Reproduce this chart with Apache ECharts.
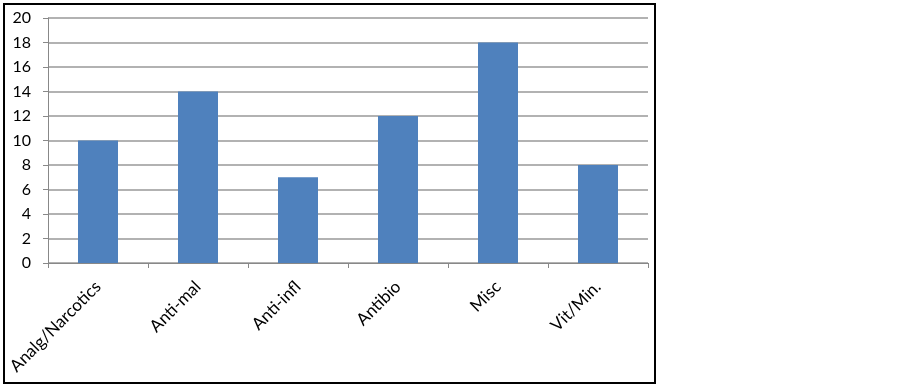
<!DOCTYPE html>
<html><head><meta charset="utf-8">
<script src="https://cdn.jsdelivr.net/npm/echarts@6/dist/echarts.min.js"></script>
<style>html,body{margin:0;padding:0;background:#fff}#c{width:902px;height:387px}</style>
</head><body><div id="c"></div>
<script>
const categories = ["Analg/Narcotics", "Anti-mal", "Anti-infl", "Antibio", "Misc", "Vit/Min."];
const values = [10, 14, 7, 12, 18, 8];
const yTicks = [0, 2, 4, 6, 8, 10, 12, 14, 16, 18, 20];

const chart = echarts.init(document.getElementById('c'), null, {renderer: 'canvas'});
chart.setOption({
  animation: false,
  backgroundColor: '#fff',
  graphic: [{
    type: 'rect', shape: {x: 4, y: 4, width: 651, height: 379},
    style: {fill: 'none', stroke: '#000', lineWidth: 2}, silent: true
  }],
  grid: {left: 48, top: 18, width: 600, height: 245, containLabel: false},
  xAxis: {
    type: 'category', data: categories,
    axisLine: {show: true, lineStyle: {color: '#888', width: 1}},
    axisTick: {show: true, alignWithLabel: false, length: 5, lineStyle: {color: '#888'}},
    axisLabel: {rotate: 45, interval: 0, margin: 21, color: '#000', fontFamily: 'Lato', fontSize: 17}
  },
  yAxis: {
    type: 'value', min: yTicks[0], max: yTicks[yTicks.length - 1], interval: 2,
    axisLine: {show: true, lineStyle: {color: '#888', width: 1}},
    axisTick: {show: true, length: 5, lineStyle: {color: '#888'}},
    axisLabel: {color: '#000', fontFamily: 'Lato', fontSize: 16, margin: 17},
    splitLine: {show: true, lineStyle: {color: '#999', width: 1.5}}
  },
  series: [{
    type: 'bar', data: values, barWidth: 40,
    itemStyle: {color: '#4F81BD'}
  }]
});
</script></body></html>
